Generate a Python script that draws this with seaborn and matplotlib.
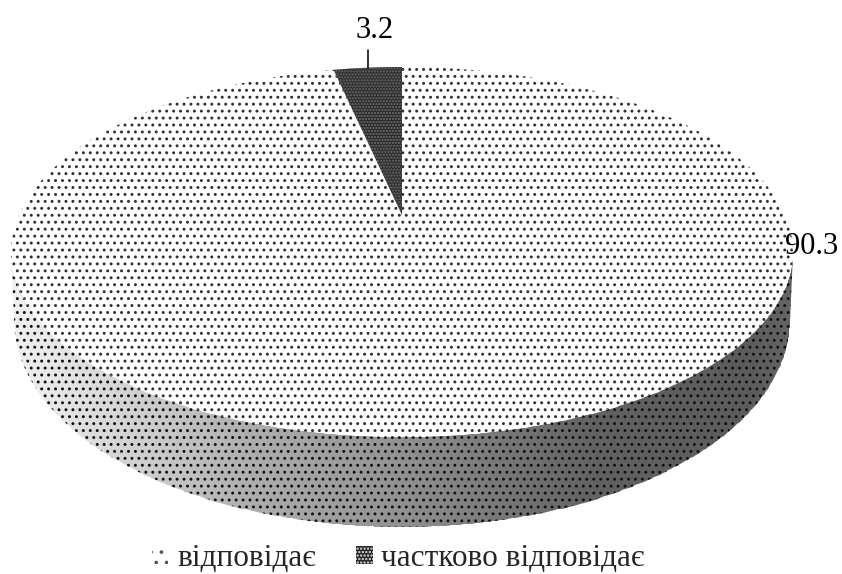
import numpy as np
import matplotlib
matplotlib.use("Agg")
import matplotlib.pyplot as plt
import seaborn as sns
from matplotlib.patches import Patch, PathPatch
from matplotlib.path import Path
from matplotlib.transforms import Affine2D, Transform

categories = ["відповідає", "частково відповідає"]
values = [90.3, 3.2]
value_labels = ["90.3", "3.2"]

DPI = 125  # hatch tile follows the dpi, this gives the dot spacing of the picture

sns.set_theme(style="white")
plt.rcParams["font.family"] = ["Liberation Serif", "DejaVu Serif"]
plt.rcParams["hatch.linewidth"] = 0.9


# flat pie circle -> picture pixels, tilted so the far side looks smaller
class Tilt(Transform):
    input_dims = 2
    output_dims = 2

    def __init__(self, y0, r, s, k=0.2):
        super().__init__()
        self.y0, self.r, self.s, self.k = y0, r, s, k

    def transform_non_affine(self, xy):
        xy = np.asarray(xy)
        w = 1 + self.k * xy[:, 1]
        return np.column_stack([402 + self.r * xy[:, 0] / w, self.y0 - self.s * xy[:, 1] / w])

    def transform_path_non_affine(self, path):
        flat = Affine2D().scale(1000).transform_path(path).to_polygons(closed_only=True)
        return Path(self.transform_non_affine(flat[0] / 1000))


top = Tilt(215, 383, 177.6)
rim = Tilt(278.6, 380, 198.7)

fig = plt.figure(figsize=(842 / DPI, 574 / DPI), dpi=DPI)
ax = fig.add_axes([0, 0, 1, 1])

wedges, _ = ax.pie(values, startangle=90, counterclock=False, radius=1)
ax.set_aspect("auto")
ax.set_xlim(0, 842)
ax.set_ylim(574, 0)
ax.axis("off")

styles = [dict(facecolor="white", edgecolor="#303030", hatch="...", linewidth=0),
          dict(facecolor="#2a2a2a", edgecolor="#6e6e6e", hatch=".......", linewidth=0)]
for w, st in zip(wedges, styles):
    w.set(**st)
    w.set_transform(top + ax.transData)
    w.set_zorder(3)

# side wall, light comes from the left
t = np.linspace(0, 2 * np.pi, 721)
circle = np.column_stack([np.cos(t), np.sin(t)])
up = top.transform_non_affine(circle)
lo = rim.transform_non_affine(circle)
wall_poly = Path(np.vstack([lo[lo[:, 1] >= 320], up[up[:, 1] >= 252][::-1]]))

wall_x = [0, 60, 150, 250, 400, 500, 600, 750, 800]
wall_shade = [0.95, 0.90, 0.80, 0.68, 0.57, 0.47, 0.38, 0.36, 0.40]
grid = np.interp(np.arange(842), wall_x, wall_shade)[None, :]
mesh = ax.pcolormesh(np.arange(843), [200, 540], grid, cmap="gray", vmin=0, vmax=1, zorder=1)
clip = PathPatch(wall_poly, facecolor="none", edgecolor="none")
ax.add_patch(clip)
mesh.set_clip_path(clip)
ax.add_patch(PathPatch(wall_poly, facecolor="none", edgecolor="#111111", hatch="...", linewidth=0, zorder=2))

ax.text(375, 30, value_labels[1], ha="center", va="center", fontsize=17.6, color="black")
ax.plot([368, 368], [50, 68], color="black", lw=0.9, zorder=4)
ax.text(812, 246, value_labels[0], ha="center", va="center", fontsize=17.6, color="black", zorder=5)

handles = [Patch(facecolor="white", edgecolor="#555555", hatch="..", linewidth=0),
           Patch(facecolor="#222222", edgecolor="#e8e8e8", hatch="......", linewidth=0)]
fig.legend(handles, categories, loc="lower left", bbox_to_anchor=(152 / 842, 0.002), ncol=2, frameon=False,
           fontsize=18.0, handlelength=0.52, handleheight=0.52, handletextpad=0.28, columnspacing=1.3,
           borderpad=0, borderaxespad=0)

fig.savefig("out.png", dpi=DPI)
